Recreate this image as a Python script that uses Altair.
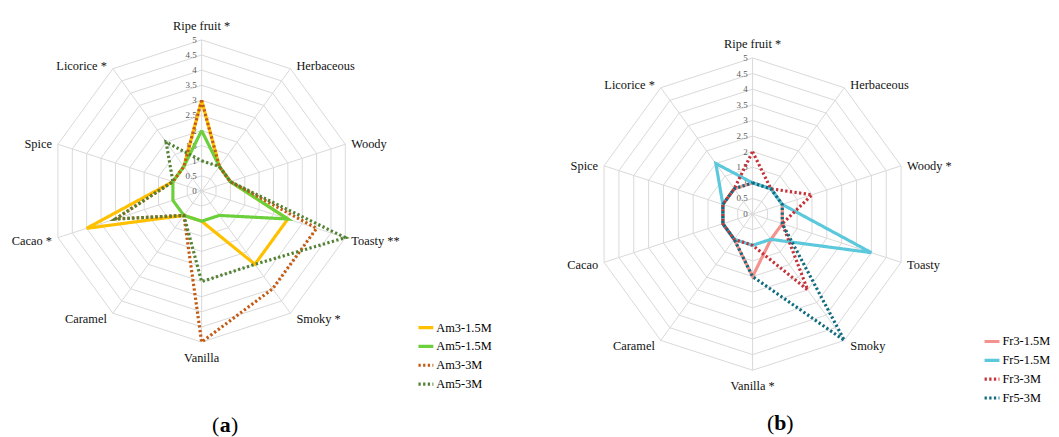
import altair as alt
import pandas as pd

# ---------------- data ----------------
attrs_a = ["Ripe fruit *", "Herbaceous", "Woody", "Toasty **", "Smoky *",
           "Vanilla", "Caramel", "Cacao *", "Spice", "Licorice *"]
attrs_b = ["Ripe fruit *", "Herbaceous", "Woody *", "Toasty", "Smoky",
           "Vanilla *", "Caramel", "Cacao", "Spice", "Licorice *"]

series_a = ["Am3-1.5M", "Am5-1.5M", "Am3-3M", "Am5-3M"]
am3_15 = [3, 1, 1, 3, 3, 1, 1, 4, 1, 1]
am5_15 = [2, 1, 1, 3, 1, 1, 1, 1, 1, 1]
am3_3 = [3, 1, 1, 4, 4, 5, 1, 3, 1, 1]
am5_3 = [1, 1, 1, 5, 3, 3, 1, 3, 1, 2]

series_b = ["Fr3-1.5M", "Fr5-1.5M", "Fr3-3M", "Fr5-3M"]
fr3_15 = [1, 1, 1, 1, 1, 2, 1, 1, 1, 1]
fr5_15 = [1, 1, 1, 4, 1, 1, 1, 1, 1, 2]
fr3_3 = [2, 1, 2, 1, 3, 1, 1, 1, 1, 1]
fr5_3 = [1, 1, 1, 1, 5, 2, 1, 1, 1, 1]

levels = [0, 0.5, 1, 1.5, 2, 2.5, 3, 3.5, 4, 4.5, 5]

# ---------------- styles ----------------
colors_a = ["#FFC000", "#6CCF3C", "#C55A11", "#548235"]
colors_b = ["#F4928E", "#5CC8DC", "#C4343A", "#0F6B7E"]
SOLID = [1, 0]
DOT = [2.3, 2.4]
dashes = [SOLID, SOLID, DOT, DOT]
widths = [3.2, 3.2, 2.6, 2.6]
GRID = "#D9D9D9"
SERIF = "Liberation Serif"
N = 10
RMAX = 5


def panel(attrs, series, vals, colors, cx, cy, ppu, W, H, legx, legy, cap, capx, capy):
    xdom = [-cx / ppu, (W - cx) / ppu]
    ydom = [-(H - cy) / ppu, cy / ppu]
    X = alt.X("x:Q", scale=alt.Scale(domain=xdom, nice=False, zero=False), axis=None)
    Y = alt.Y("y:Q", scale=alt.Scale(domain=ydom, nice=False, zero=False), axis=None)

    def to_xy(ch, r_field):
        return ch.transform_calculate(
            ang="datum.idx * PI / 5"
        ).transform_calculate(
            x=f"{r_field} * sin(datum.ang)", y=f"{r_field} * cos(datum.ang)"
        )

    # rings
    ring_rows = [{"level": lv, "idx": i} for lv in levels[1:] for i in range(N + 1)]
    rings = to_xy(alt.Chart(pd.DataFrame(ring_rows)), "datum.level").mark_line(
        color=GRID, strokeWidth=1
    ).encode(x=X, y=Y, detail="level:N", order="idx:Q")

    # spokes
    spoke_df = pd.DataFrame({"idx": list(range(N)), "r": [RMAX] * N})
    spokes = to_xy(alt.Chart(spoke_df), "datum.r").transform_calculate(
        x0="0", y0="0"
    ).mark_rule(color=GRID, strokeWidth=1).encode(
        x=X, y=Y, x2="x0:Q", y2="y0:Q"
    )

    # tick labels on the top spoke
    tick_df = pd.DataFrame({"level": levels})
    ticks = alt.Chart(tick_df).transform_calculate(
        x="0", y="datum.level"
    ).mark_text(align="right", baseline="middle", dx=-5, fontSize=9,
                font=SERIF, color="#595959").encode(
        x=X, y=Y, text=alt.Text("level:Q", format="~g"))

    # category labels
    lab_df = pd.DataFrame({"idx": list(range(N)), "label": attrs})
    kk = 5.6 / ppu
    base = alt.Chart(lab_df).transform_calculate(
        ang="datum.idx * PI / 5"
    )
    side = base.transform_calculate(
        x=f"{RMAX} * sin(datum.ang)", y=f"({RMAX} + {kk}) * cos(datum.ang)"
    )
    lab_kw = dict(font=SERIF, fontSize=12.5, color="#111111", baseline="middle")
    right = side.transform_filter("datum.idx >= 1 && datum.idx <= 4").mark_text(
        align="left", dx=6, dy=1.5, **lab_kw).encode(x=X, y=Y, text="label:N")
    left = side.transform_filter("datum.idx >= 6").mark_text(
        align="right", dx=-6, dy=1.5, **lab_kw).encode(x=X, y=Y, text="label:N")
    vert = base.transform_calculate(
        x=f"{RMAX} * sin(datum.ang)", y=f"{RMAX} * cos(datum.ang)"
    )
    top = vert.transform_filter("datum.idx == 0").mark_text(
        align="center", dy=-14, **lab_kw).encode(x=X, y=Y, text="label:N")
    bottom = vert.transform_filter("datum.idx == 5").mark_text(
        align="center", dy=16, **lab_kw).encode(x=X, y=Y, text="label:N")

    # series lines
    rows = []
    for s, v in zip(series, vals):
        for i in range(N + 1):
            rows.append({"series": s, "idx": i, "value": v[i % N]})
    ldf = pd.DataFrame(rows)
    leg = alt.Legend(orient="none", legendX=legx, legendY=legy, title=None,
                     symbolType="stroke", symbolSize=225, symbolStrokeWidth=3,
                     labelFont=SERIF, labelFontSize=12.5, labelColor="#000000",
                     labelOffset=1, rowPadding=3, padding=0, symbolOffset=0)
    lines = to_xy(alt.Chart(ldf), "datum.value").mark_line(
        strokeJoin="miter", strokeCap="butt").encode(
        x=X, y=Y, order="idx:Q",
        color=alt.Color("series:N", scale=alt.Scale(domain=series, range=colors), legend=leg),
        strokeDash=alt.StrokeDash("series:N", scale=alt.Scale(domain=series, range=dashes), legend=leg),
        strokeWidth=alt.StrokeWidth("series:N", scale=alt.Scale(domain=series, range=widths), legend=None),
    )

    # caption (a)/(b)
    cap_df = pd.DataFrame({"t": [cap]})
    capc = alt.Chart(cap_df)
    c1 = capc.mark_text(text="(", align="right", baseline="middle", dx=-6,
                        font=SERIF, fontSize=22, color="#000").encode(
        x=alt.value(capx), y=alt.value(capy))
    c2 = capc.mark_text(align="center", baseline="middle", font=SERIF, fontSize=22,
                        fontWeight="bold", color="#000").encode(
        x=alt.value(capx), y=alt.value(capy), text="t:N")
    c3 = capc.mark_text(text=")", align="left", baseline="middle", dx=6,
                        font=SERIF, fontSize=22, color="#000").encode(
        x=alt.value(capx), y=alt.value(capy))

    return alt.layer(rings, spokes, ticks, right, left, top, bottom, lines, c1, c2, c3).properties(
        width=W, height=H)


pa = panel(attrs_a, series_a, [am3_15, am5_15, am3_3, am5_3], colors_a,
           cx=195.3, cy=182.7, ppu=30.48, W=522, H=421,
           legx=412, legy=311, cap="a", capx=219, capy=419)
pb = panel(attrs_b, series_b, [fr3_15, fr5_15, fr3_3, fr5_3], colors_b,
           cx=229, cy=206, ppu=31.5, W=529, H=421,
           legx=461, legy=325, cap="b", capx=257, capy=417)

chart = alt.hconcat(pa, pb, spacing=0).resolve_scale(
    color="independent", strokeDash="independent", strokeWidth="independent"
).resolve_legend(
    color="independent", strokeDash="independent"
).properties(padding=0).configure_view(stroke=None)

chart.save("out.html", embed_options={"renderer": "svg", "actions": False})
